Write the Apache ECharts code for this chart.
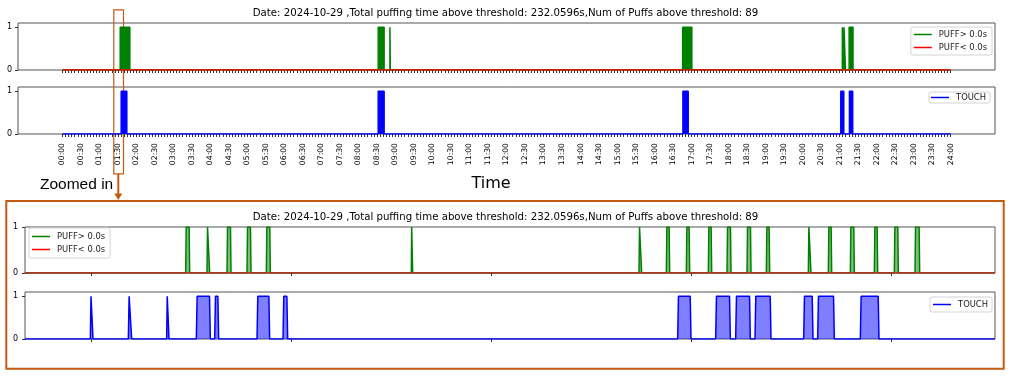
<!DOCTYPE html>
<html>
<head>
<meta charset="utf-8">
<script src="https://cdn.jsdelivr.net/npm/echarts@6/dist/echarts.min.js"></script>
<style>
html, body { margin: 0; padding: 0; background: #fff; }
#main { width: 1011px; height: 380px; }
</style>
</head>
<body>
<div id="main"></div>
<script>
var titleText = 'Date: 2024-10-29 ,Total puffing time above threshold: 232.0596s,Num of Puffs above threshold: 89';

var tickLabels = ['00:00','00:30','01:00','01:30','02:00','02:30','03:00','03:30','04:00','04:30',
  '05:00','05:30','06:00','06:30','07:00','07:30','08:00','08:30','09:00','09:30',
  '10:00','10:30','11:00','11:30','12:00','12:30','13:00','13:30','14:00','14:30',
  '15:00','15:30','16:00','16:30','17:00','17:30','18:00','18:30','19:00','19:30',
  '20:00','20:30','21:00','21:30','22:00','22:30','23:00','23:30','24:00'];

// whole day (minutes after midnight), blocks as they show at this scale
var dayPuffStart  = [93.7, 512.0, 531.0, 1005.6, 1264.5, 1267.2, 1275.5];
var dayPuffEnd    = [109.3, 521.6, 531.6, 1020.5, 1266.2, 1269.6, 1281.8];
var dayTouchStart = [95.3, 512.0, 1006.0, 1262.0, 1276.0];
var dayTouchEnd   = [104.4, 521.6, 1014.6, 1266.8, 1281.3];

// zoomed window (seconds after midnight)
var zoomPuffStart  = [5542, 5574, 5604, 5634, 5663, 5880.5, 6222, 6263, 6293, 6326, 6354, 6384, 6413, 6476, 6506, 6539, 6575, 6605, 6636];
var zoomPuffEnd    = [5548, 5578, 5610, 5640, 5669, 5882.5, 6226, 6268, 6298, 6331, 6360, 6390, 6418, 6480, 6511, 6545, 6580, 6611, 6643];
var zoomTouchStart = [5399, 5456, 5513.5, 5558, 5585.5, 5649, 5688, 6280, 6337, 6367, 6396, 6469, 6490, 6554];
var zoomTouchEnd   = [5403, 5461, 5517, 5579, 5591.5, 5668, 5695, 6300, 6359, 6389, 6420, 6483, 6515, 6582];
var zoomTicks = [5400, 5700, 6000, 6300, 6600];

var dayMin = -72, dayMax = 1512;     // 5% margins around 00:00-24:00
var zoomMin = 5301, zoomMax = 6756;

function toMin(s) {
  var p = s.split(':');
  return +p[0] * 60 + +p[1];
}
var labelValues = tickLabels.map(toMin);
var labelMap = {};
labelValues.forEach(function (v, i) { labelMap[v] = tickLabels[i]; });
var minorTicks = [];
for (var m = 0; m <= 1440; m += 5) minorTicks.push(m);

// on/off signal as a line: 0 -> 1 -> 0 for every interval
function pulses(starts, ends, x0, x1, ramp) {
  var d = [[x0, 0]];
  for (var i = 0; i < starts.length; i++) {
    var r = Math.min(ramp, (ends[i] - starts[i]) / 4);
    d.push([starts[i], 0], [starts[i] + r, 1], [ends[i] - r, 1], [ends[i], 0]);
  }
  d.push([x1, 0]);
  return d;
}

var font = 'DejaVu Sans';
var grids = [
  { left: 18, right: 16, top: 23, height: 47 },
  { left: 18, right: 16, top: 87, height: 47 },
  { left: 25, right: 16, top: 227, height: 46 },
  { left: 25, right: 16, top: 292, height: 47 }
].map(function (g) {
  g.show = true; g.backgroundColor = '#fff'; g.borderColor = '#555'; g.borderWidth = 1;
  return g;
});

function xDay(idx, labels) {
  return {
    type: 'value', gridIndex: idx, min: dayMin, max: dayMax,
    axisLine: { show: false, onZero: false }, splitLine: { show: false },
    axisTick: { show: true, customValues: minorTicks, length: 3, lineStyle: { color: '#333' } },
    axisLabel: {
      show: labels, customValues: labelValues, interval: 0, rotate: 90, margin: 9,
      fontSize: 7.7, color: '#000', fontFamily: font,
      formatter: function (v) { return labelMap[v]; }
    }
  };
}
function xZoom(idx) {
  return {
    type: 'value', gridIndex: idx, min: zoomMin, max: zoomMax,
    axisLine: { show: false, onZero: false }, splitLine: { show: false },
    axisTick: { show: true, customValues: zoomTicks, length: 3, lineStyle: { color: '#333' } },
    axisLabel: { show: false }
  };
}
function yAx(idx, max, margin) {
  return {
    type: 'value', gridIndex: idx, min: 0, max: max,
    axisLine: { show: false, onZero: false }, splitLine: { show: false },
    axisTick: { show: true, customValues: [0, 1], length: 3, lineStyle: { color: '#333' } },
    axisLabel: { customValues: [0, 1], margin: margin, fontSize: 8, color: '#000', fontFamily: font }
  };
}

function lineSeries(name, idx, color, data, fill) {
  var s = {
    name: name, type: 'line', xAxisIndex: idx, yAxisIndex: idx,
    data: data, symbol: 'none', color: color,
    lineStyle: { color: color, width: 1.5 }, animation: false
  };
  if (fill) s.areaStyle = { color: fill, opacity: 1 };
  return s;
}

var legendBase = {
  orient: 'vertical', icon: 'rect', itemWidth: 18, itemHeight: 1.5, itemGap: 4,
  backgroundColor: '#fff', borderColor: '#d4d4d4', borderWidth: 1, borderRadius: 2,
  textStyle: { fontSize: 8.4, color: '#222', fontFamily: font, lineHeight: 9, padding: [0, 0, 0, 2] },
  selectedMode: false
};
function legend(names, pos) {
  return Object.assign({}, legendBase, { data: names }, pos);
}

var orange = '#C55A11';
var chart = echarts.init(document.getElementById('main'));
chart.setOption({
  animation: false,
  textStyle: { fontFamily: font },
  title: [
    { text: titleText, left: 'center', top: 8, padding: 0, textStyle: { fontSize: 10.2, fontWeight: 'normal', color: '#000' } },
    { text: titleText, left: 'center', top: 212, padding: 0, textStyle: { fontSize: 10.2, fontWeight: 'normal', color: '#000' } }
  ],
  grid: grids,
  xAxis: [xDay(0, false), xDay(1, true), xZoom(2), xZoom(3)],
  yAxis: [yAx(0, 1.1, 6), yAx(1, 1.1, 6), yAx(2, 1, 7), yAx(3, 1.1, 7)],
  legend: [
    legend(['PUFF> 0.0s', 'PUFF< 0.0s'], { right: 19, top: 27, padding: [3, 5, 3, 3] }),
    legend(['TOUCH'], { right: 21, top: 92, padding: [1, 4, 1, 2] }),
    legend(['PUFF> 0.0s', 'PUFF< 0.0s'], { left: 29, top: 228, padding: [4, 5, 4, 3] }),
    legend(['TOUCH'], { right: 19, top: 297, padding: [3, 4, 3, 3] })
  ],
  series: [
    lineSeries('PUFF> 0.0s', 0, '#008000', pulses(dayPuffStart, dayPuffEnd, 0, 1440, 0), '#008000'),
    lineSeries('PUFF< 0.0s', 0, '#ff0000', [[0, 0], [1440, 0]]),
    lineSeries('TOUCH', 1, '#0000ff', pulses(dayTouchStart, dayTouchEnd, 0, 1440, 0), '#0000ff'),
    lineSeries('PUFF> 0.0s', 2, '#008000', pulses(zoomPuffStart, zoomPuffEnd, zoomMin, zoomMax, 0.8), 'rgba(0,128,0,0.5)'),
    lineSeries('PUFF< 0.0s', 2, '#d02020', [[zoomMin, 0], [zoomMax, 0]]),
    lineSeries('TOUCH', 3, '#0000ff', pulses(zoomTouchStart, zoomTouchEnd, zoomMin, zoomMax, 1.2), 'rgba(0,0,255,0.5)')
  ],
  graphic: [
    { type: 'text', x: 491, y: 184, style: { text: 'Time', fontSize: 16, fontFamily: font, fill: '#000', align: 'center', verticalAlign: 'middle' } },
    { type: 'text', x: 40, y: 184.5, style: { text: 'Zoomed in', fontSize: 15.5, fontFamily: 'Liberation Sans', fill: '#000', align: 'left', verticalAlign: 'middle' } },
    { type: 'rect', shape: { x: 113.8, y: 9.8, width: 9.7, height: 164 }, style: { fill: 'none', stroke: orange, lineWidth: 1.2 } },
    { type: 'line', shape: { x1: 118.3, y1: 174, x2: 118.3, y2: 194 }, style: { stroke: orange, lineWidth: 2 } },
    { type: 'polygon', shape: { points: [[114.3, 193.5], [122.3, 193.5], [118.3, 200]] }, style: { fill: orange } },
    { type: 'rect', shape: { x: 6.3, y: 201, width: 997.4, height: 167.7 }, style: { fill: 'none', stroke: orange, lineWidth: 2 } }
  ]
});
</script>
</body>
</html>
